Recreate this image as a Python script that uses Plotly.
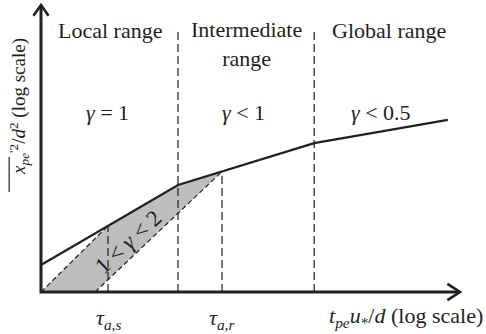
import numpy as np
import plotly.graph_objects as go

# Schematic of mean-square displacement vs. time (both on log scales)
range_names = ["Local range", "Intermediate<br>range", "Global range"]
gamma_labels = ["<i>γ</i> = 1", "<i>γ</i> < 1", "<i>γ</i> < 0.5"]
boundaries = [3.27, 6.52]          # log-time where the regime changes
x_end = 10.0                       # length of the time axis
y_end = 7.0                        # length of the displacement axis

curve_x = [0.0, 3.27, 6.52, 9.71]  # piecewise-linear MSD curve
curve_y = [0.66, 2.61, 3.63, 4.2]

tau_x = [1.6, 4.32]                # τ_a,s and τ_a,r
tau_labels = ["<i>τ</i><sub><i>a,s</i></sub>", "<i>τ</i><sub><i>a,r</i></sub>"]
band_start = [0.0, 1.29]           # where the two ballistic-like bounds leave the axis

FONT = "Liberation Serif, Times New Roman, serif"
INK = "#231f20"
GREY = "#bdbdbd"

tau_y = np.interp(tau_x, curve_x, curve_y)

fig = go.Figure()

# shaded band 1 < γ < 2
seg_x = [x for x in curve_x if tau_x[0] < x < tau_x[1]]
band_x = [band_start[0], tau_x[0]] + seg_x + [tau_x[1], band_start[1]]
band_y = [0.0, tau_y[0]] + list(np.interp(seg_x, curve_x, curve_y)) + [tau_y[1], 0.0]
fig.add_trace(go.Scatter(x=band_x, y=band_y, fill="toself", fillcolor=GREY,
                         mode="none", hoverinfo="skip"))

# dashed bounds of the band
for x0, x1, y1 in [(band_start[0], tau_x[0], tau_y[0]), (band_start[1], tau_x[1], tau_y[1])]:
    fig.add_trace(go.Scatter(x=[x0, x1], y=[0, y1], mode="lines",
                             line=dict(color=INK, width=1.2, dash="5px,3px")))

# vertical dashed markers at τ_a,s and τ_a,r
for tx, ty in zip(tau_x, tau_y):
    fig.add_trace(go.Scatter(x=[tx, tx], y=[0, ty], mode="lines",
                             line=dict(color=INK, width=1.2, dash="8px,4px")))

# regime boundaries
for bx in boundaries:
    fig.add_trace(go.Scatter(x=[bx, bx], y=[0, 6.44], mode="lines",
                             line=dict(color=INK, width=1.2, dash="8px,4px")))

# MSD curve
fig.add_trace(go.Scatter(x=curve_x, y=curve_y, mode="lines",
                         line=dict(color=INK, width=2.2)))

# axes with open arrowheads
fig.add_trace(go.Scatter(x=[0, 0, x_end], y=[y_end, 0, 0], mode="lines",
                         line=dict(color=INK, width=3)))
fig.add_trace(go.Scatter(x=[-0.18, 0, 0.18], y=[y_end - 0.26, y_end, y_end - 0.26],
                         mode="lines", line=dict(color=INK, width=2.6)))
fig.add_trace(go.Scatter(x=[x_end - 0.3, x_end, x_end - 0.3], y=[0.2, 0, -0.2],
                         mode="lines", line=dict(color=INK, width=2.6)))

font = dict(family=FONT, size=22, color=INK)
ann = []
region_centres = [boundaries[0] / 2, sum(boundaries) / 2, 8.3]
for cx, name in zip(region_centres, range_names):
    ann.append(dict(x=cx, y=6.06 if "<br>" in name else 6.39, text=name))
for cx, g in zip([1.58, 4.84, 8.11], gamma_labels):
    ann.append(dict(x=cx, y=4.39, text=g))
for tx, lab in zip(tau_x, tau_labels):
    ann.append(dict(x=tx, y=-0.66, text=lab))
ann.append(dict(x=8.71, y=-0.62,
                text="<i>t</i><sub><i>pe</i></sub><i>u</i><sub>*</sub>/<i>d</i> (log scale)"))
for a in ann:
    a.update(xref="x", yref="y", showarrow=False, font=font)
ann.append(dict(x=2.1, y=1.22, text="1 < <i>γ</i> < 2", textangle=-43, xref="x", yref="y",
                showarrow=False, font=dict(family=FONT, size=23, color=INK)))
ann.append(dict(x=-0.52, y=4.52, textangle=-90, xref="x", yref="y", showarrow=False,
                font=dict(family=FONT, size=19, color=INK),
                text="<i>x</i><sub><i>pe</i></sub><sup>'2</sup>/<i>d</i><sup>2</sup> (log scale)"))

# overline on the y-axis symbol
fig.add_shape(type="line", xref="x", yref="y", x0=-0.76, x1=-0.76, y0=2.44, y1=3.29,
              line=dict(color=INK, width=1.2))

fig.update_layout(
    width=486, height=334, margin=dict(l=0, r=0, t=0, b=0),
    paper_bgcolor="white", plot_bgcolor="white", showlegend=False,
    annotations=ann,
    xaxis=dict(range=[-41 / 41.9, 445 / 41.9], visible=False, fixedrange=True),
    yaxis=dict(range=[-42 / 41, 292 / 41], visible=False, fixedrange=True),
)
fig.write_html("out.html")
